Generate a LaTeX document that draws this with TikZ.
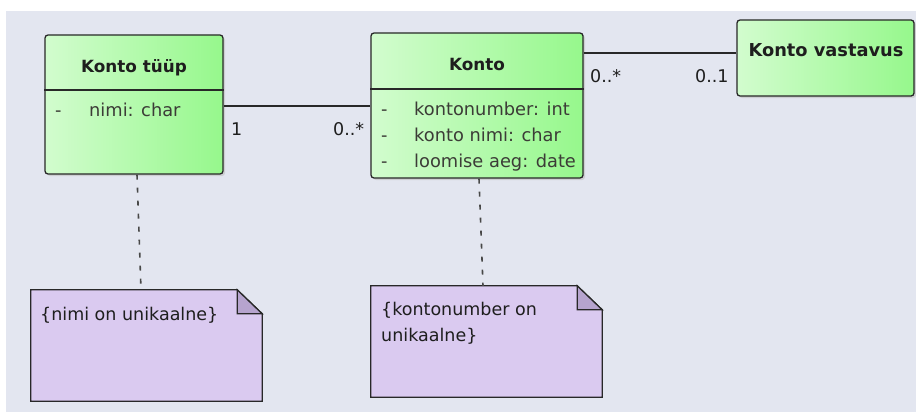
\documentclass[tikz,border=0pt]{standalone}
\usepackage{fontspec}
\setmainfont{DejaVu Sans}
\usetikzlibrary{shadows}
\definecolor{bg}{RGB}{227,230,240}
\definecolor{gl}{RGB}{210,252,206}
\definecolor{gr}{RGB}{150,248,140}
\definecolor{notef}{RGB}{218,202,240}
\definecolor{foldf}{RGB}{182,164,206}
\definecolor{edge}{RGB}{40,40,40}
\definecolor{txt}{RGB}{30,30,30}
\definecolor{attr}{RGB}{60,60,55}
\begin{document}
\begin{tikzpicture}[x=1pt,y=-1pt,
  classbox/.style={draw=edge, line width=1.3pt, rounded corners=3pt,
    left color=gl, right color=gr, inner sep=0pt,
    drop shadow={shadow xshift=2pt, shadow yshift=-2pt, fill=black!25, opacity=.6}},
  notebox/.style={inner sep=0pt, draw=none},
  titletext/.style={font=\fontsize{16.8}{20}\selectfont\bfseries, text=txt, inner sep=0pt, anchor=base},
  attrtext/.style={font=\fontsize{17.8}{20}\selectfont, text=attr, inner sep=0pt, anchor=base west},
  multtext/.style={font=\fontsize{17.5}{20}\selectfont, text=txt, inner sep=0pt, anchor=base west},
  notetext/.style={font=\fontsize{17.5}{20}\selectfont, text=txt, inner sep=0pt, anchor=base west, align=left},
  sepline/.style={draw=edge, line width=1.3pt},
  assoc/.style={draw=edge, line width=1.2pt},
  anchorline/.style={draw=edge!85, line width=1.6pt, dash pattern=on 5pt off 8pt},
  noteline/.style={draw=edge, line width=1.3pt, fill=notef},
  foldline/.style={draw=edge, line width=1.3pt, fill=foldf, line join=miter}
]
\useasboundingbox (0,0) rectangle (916,412);
\fill[white] (0,0) rectangle (916,412);
\fill[bg] (6,11) rectangle (916,412);

% classes
\node[classbox, minimum width=178pt, minimum height=139pt] (tyyp) at (134,104.5) {};
\node[classbox, minimum width=212pt, minimum height=145pt] (konto) at (477,105.5) {};
\node[classbox, minimum width=177pt, minimum height=76pt] (vast) at (825.5,58) {};

\draw[sepline] (tyyp.west |- 0,90) -- (tyyp.east |- 0,90);
\draw[sepline] (konto.west |- 0,89) -- (konto.east |- 0,89);

\node[titletext] (tyypT) at (134,73) {Konto tüüp};
\node[titletext] (kontoT) at (477,70.5) {Konto};
\node[titletext, font=\fontsize{17.8}{20}\selectfont\bfseries] (vastT) at (826,57) {Konto vastavus};

\node[attrtext] (tyypD1) at (55,117) {-};
\node[attrtext] (tyypA1) at (89,117) {nimi: char};
\node[attrtext] (kontoD1) at (381,115) {-};
\node[attrtext] (kontoA1) at (414,115) {kontonumber: int};
\node[attrtext] (kontoD2) at (381,141) {-};
\node[attrtext] (kontoA2) at (414,141) {konto nimi: char};
\node[attrtext] (kontoD3) at (381,167) {-};
\node[attrtext] (kontoA3) at (414,167) {loomise aeg: date};

% notes
\node[notebox, minimum width=231pt, minimum height=111pt] (n1) at (146.5,345.5) {};
\node[notebox, minimum width=231pt, minimum height=111pt] (n2) at (486.5,341.5) {};
\foreach \n in {n1,n2}{
  \draw[noteline] (\n.north west) -- ([xshift=-25pt]\n.north east) -- ([yshift=-24pt]\n.north east) -- (\n.south east) -- (\n.south west) -- cycle;
  \draw[foldline] ([xshift=-25pt]\n.north east) -- ([xshift=-25pt,yshift=-24pt]\n.north east) -- ([yshift=-24pt]\n.north east) -- cycle;
}
\node[notetext] (n1T) at (40,320) {\{nimi on unikaalne\}};
\node[notetext] (n2T1) at (381,315) {\{kontonumber on};
\node[notetext] (n2T2) at (381,341) {unikaalne\}};

% associations
\draw[assoc] (tyyp.east |- 0,106) -- (konto.west |- 0,106);
\draw[assoc] (konto.east |- 0,53) -- (vast.west |- 0,53);
\node[multtext] (m1) at (231,135) {1};
\node[multtext] (m2) at (333,135) {0..*};
\node[multtext] (m3) at (590,82) {0..*};
\node[multtext] (m4) at (695,82) {0..1};

% note anchors
\draw[anchorline] (tyyp.south -| 137,0) -- (n1.north -| 141,0);
\draw[anchorline] (konto.south -| 479,0) -- (n2.north -| 483,0);
\end{tikzpicture}
\end{document}
